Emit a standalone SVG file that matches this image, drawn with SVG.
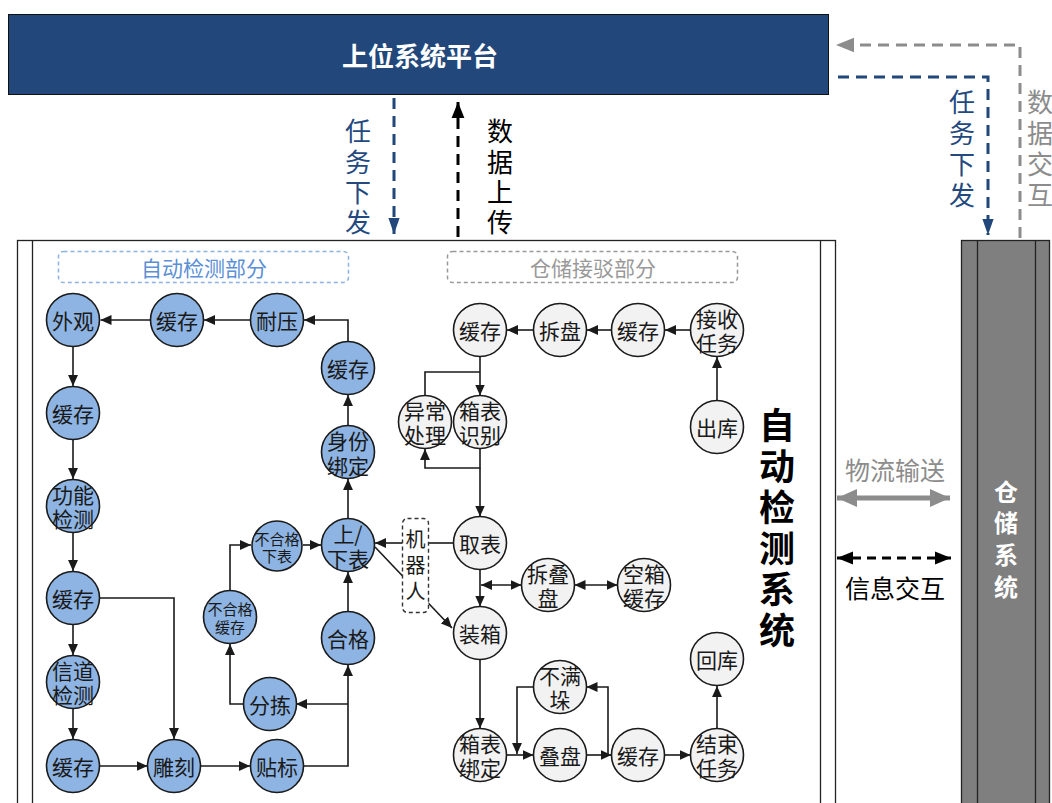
<svg xmlns="http://www.w3.org/2000/svg" width="1052" height="803" viewBox="0 0 1052 803">
<style>
text{font-family:"Noto Sans CJK SC","Liberation Sans",sans-serif;text-anchor:middle;dominant-baseline:central}
.v{writing-mode:vertical-rl}
.n{stroke:#1a1a1a;stroke-width:1.6}
.b{fill:#8DB4E2}
.g{fill:#F2F2F2}
.t{font-size:21px;fill:#1a1a1a}
.s{font-size:15px;fill:#1a1a1a}
.c{fill:none;stroke:#1a1a1a;stroke-width:1.6}
.ae{marker-end:url(#a)}
.ad{marker-start:url(#a);marker-end:url(#a)}
</style>
<defs>
<marker id="a" viewBox="0 0 10 10" refX="10" refY="5" markerWidth="11" markerHeight="11" markerUnits="userSpaceOnUse" orient="auto-start-reverse"><path d="M0,0.5 L10,5 L0,9.5z" fill="#1a1a1a"/></marker>
<marker id="bl" viewBox="0 0 10 10" refX="10" refY="5" markerWidth="16" markerHeight="18" markerUnits="userSpaceOnUse" orient="auto-start-reverse"><path d="M0,1.5 L10,5 L0,8.5z" fill="#21477B"/></marker>
<marker id="bk" viewBox="0 0 10 10" refX="10" refY="5" markerWidth="18" markerHeight="16" markerUnits="userSpaceOnUse" orient="auto-start-reverse"><path d="M0,1 L10,5 L0,9z" fill="#000"/></marker>
<marker id="gr" viewBox="0 0 10 10" refX="10" refY="5" markerWidth="18" markerHeight="18" markerUnits="userSpaceOnUse" orient="auto-start-reverse"><path d="M0,1 L10,5 L0,9z" fill="#8c8c8c"/></marker>
<marker id="gr2" viewBox="0 0 10 10" refX="10" refY="5" markerWidth="20" markerHeight="20" markerUnits="userSpaceOnUse" orient="auto-start-reverse"><path d="M0,0.5 L10,5 L0,9.5z" fill="#8c8c8c"/></marker>
</defs>
<rect width="1052" height="803" fill="#fff"/>

<g id="platform">
<rect x="8.5" y="14.5" width="820" height="80" fill="#21477B" stroke="#111" stroke-width="1"/>
<text x="420" y="54" style="font-size:26px;font-weight:bold;fill:#fff">上位系统平台</text>
</g>

<g id="detect-system">
<rect x="17.5" y="240.5" width="818" height="580" fill="#fff" stroke="#222" stroke-width="1.3"/>
<line x1="32.5" y1="240" x2="32.5" y2="803" stroke="#222" stroke-width="1.3"/>
<line x1="820.5" y1="240" x2="820.5" y2="803" stroke="#222" stroke-width="1.3"/>
<text class="v" x="777" y="530" style="font-size:36px;font-weight:bold;fill:#000;letter-spacing:5px">自动检测系统</text>
</g>

<g id="warehouse">
<rect x="961.5" y="240.5" width="88" height="580" fill="#7f7f7f" stroke="#222" stroke-width="1.3"/>
<line x1="977.5" y1="240" x2="977.5" y2="803" stroke="#222" stroke-width="1.3"/>
<line x1="1035.5" y1="240" x2="1035.5" y2="803" stroke="#222" stroke-width="1.3"/>
<text class="v" x="1006" y="543" style="font-size:24px;font-weight:bold;fill:#fff;letter-spacing:7.7px">仓储系统</text>
</g>

<g id="label-detect">
<rect x="58.5" y="251.5" width="290" height="31" rx="5" fill="none" stroke="#8DB3E2" stroke-width="1.5" stroke-dasharray="4 3"/>
<text x="204" y="266.5" style="font-size:21px;fill:#5B8FD6">自动检测部分</text>
</g>
<g id="label-storage">
<rect x="447.5" y="251.5" width="290" height="31" rx="5" fill="none" stroke="#999" stroke-width="1.5" stroke-dasharray="4 3"/>
<text x="593" y="266.5" style="font-size:21px;fill:#999">仓储接驳部分</text>
</g>

<g id="connectors">
<line x1="394" y1="98" x2="394" y2="234" stroke="#21477B" stroke-width="3" stroke-dasharray="11 7" marker-end="url(#bl)"/>
<line x1="458" y1="237" x2="458" y2="102" stroke="#000" stroke-width="3" stroke-dasharray="11 7" marker-end="url(#bk)"/>
<path d="M1020,238 V45 H836" fill="none" stroke="#8c8c8c" stroke-width="3" stroke-dasharray="11 7" marker-end="url(#gr)"/>
<path d="M838,77 H988 V235" fill="none" stroke="#21477B" stroke-width="3" stroke-dasharray="11 7" marker-end="url(#bl)"/>
<line x1="837" y1="498" x2="950" y2="498" stroke="#8c8c8c" stroke-width="5" marker-start="url(#gr2)" marker-end="url(#gr2)"/>
<line x1="837" y1="558" x2="951" y2="558" stroke="#000" stroke-width="3" stroke-dasharray="9 6" marker-start="url(#bk)" marker-end="url(#bk)"/>
<path class="c ae" d="M150,320 H100.5"/>
<path class="c ae" d="M250.5,320 H204"/>
<path class="c ae" d="M348,341 V320 H304"/>
<path class="c ae" d="M348,426 V395"/>
<path class="c ae" d="M348,519 V479"/>
<path class="c ae" d="M73,347 V386"/>
<path class="c ae" d="M73,439.5 V479"/>
<path class="c ae" d="M73,532 V571"/>
<path class="c ae" d="M73,625 V655"/>
<path class="c ae" d="M73,708.5 V739"/>
<path class="c ae" d="M100,598 H174 V739"/>
<path class="c ae" d="M100,766 H147.5"/>
<path class="c ae" d="M201,766 H250"/>
<path class="c ae" d="M304,766 H348 V665"/>
<path class="c ae" d="M348,704 H296"/>
<path class="c ae" d="M243,704 H230 V644"/>
<path class="c ae" d="M230,590 V545 H251"/>
<path class="c ae" d="M303,545 H321"/>
<path class="c ae" d="M348,612 V572"/>
<path class="c ae" d="M402,543 H375"/>
<path class="c ae" d="M375,547 L452,628"/>
<path class="c" d="M454,543 H428"/>
<path class="c ae" d="M690.5,330 H665"/>
<path class="c ae" d="M611.5,330 H587"/>
<path class="c ae" d="M533.5,330 H507"/>
<path class="c ae" d="M717,400.5 V357"/>
<path class="c ae" d="M480,356.5 V395.5"/>
<path class="c" d="M425,395.5 V372 H480"/>
<path class="c ae" d="M480,448.5 V468 H425 V449"/>
<path class="c ae" d="M480,468 V516.5"/>
<path class="c ae" d="M480,569.5 V606.5"/>
<path class="c ad" d="M481,585 H521.5"/>
<path class="c ad" d="M574.5,585 H617.5"/>
<path class="c ae" d="M480,659.5 V728.5"/>
<path class="c ae" d="M506.5,755 H533.5"/>
<path class="c ae" d="M533.5,687 H517 V754"/>
<path class="c ae" d="M586.5,755 H611.5"/>
<path class="c ae" d="M608,755 V687 H586.5"/>
<path class="c ae" d="M664.5,755 H690.5"/>
<path class="c ae" d="M717,728.5 V686"/>
</g>

<g id="robot">
<rect x="402.5" y="518.5" width="26" height="94" rx="5" fill="#fff" stroke="#333" stroke-width="1.4" stroke-dasharray="4 3"/>
<text class="v t" x="415.5" y="568" style="font-size:20px;letter-spacing:6px">机器人</text>
</g>

<g id="top-text">
<text class="v" x="358" y="179" style="font-size:26px;fill:#24497F;letter-spacing:4.3px">任务下发</text>
<text class="v" x="962" y="151" style="font-size:26px;fill:#24497F;letter-spacing:5px">任务下发</text>
<text class="v" x="500" y="179" style="font-size:26px;fill:#000;letter-spacing:4.3px">数据上传</text>
<text class="v" x="1040" y="151" style="font-size:26px;fill:#8c8c8c;letter-spacing:5px">数据交互</text>
<text x="895" y="469" style="font-size:25px;fill:#8c8c8c">物流输送</text>
<text x="895" y="587" style="font-size:25px;fill:#000">信息交互</text>
</g>

<g id="n-waiguan"><circle class="n b" cx="73" cy="320" r="26.5"/><text class="t" x="73" y="320">外观</text></g>
<g id="n-huancun1"><circle class="n b" cx="177" cy="320" r="26.5"/><text class="t" x="177" y="320">缓存</text></g>
<g id="n-naiya"><circle class="n b" cx="277" cy="320" r="26.5"/><text class="t" x="277" y="320">耐压</text></g>
<g id="n-huancun2"><circle class="n b" cx="348" cy="368" r="26.5"/><text class="t" x="348" y="368">缓存</text></g>
<g id="n-shenfen"><circle class="n b" cx="348" cy="452" r="26.5"/><text class="t" x="348" y="440">身份<tspan x="348" dy="25">绑定</tspan></text></g>
<g id="n-shangxia"><circle class="n b" cx="348" cy="545" r="26.5"/><text class="t" x="348" y="533">上/<tspan x="348" dy="25">下表</tspan></text></g>
<g id="n-bhgxb"><circle class="n b" cx="277" cy="546" r="25"/><text class="s" x="277" y="538">不合格<tspan x="277" dy="17">下表</tspan></text></g>
<g id="n-bhghc"><circle class="n b" cx="230" cy="617" r="26.5"/><text class="s" x="230" y="608">不合格<tspan x="230" dy="18">缓存</tspan></text></g>
<g id="n-hege"><circle class="n b" cx="348" cy="638" r="26.5"/><text class="t" x="348" y="638">合格</text></g>
<g id="n-fenjian"><circle class="n b" cx="270" cy="704" r="26.5"/><text class="t" x="270" y="704">分拣</text></g>
<g id="n-tiebiao"><circle class="n b" cx="277" cy="766" r="26.5"/><text class="t" x="277" y="766">贴标</text></g>
<g id="n-diaoke"><circle class="n b" cx="174" cy="766" r="26.5"/><text class="t" x="174" y="766">雕刻</text></g>
<g id="n-huancun5"><circle class="n b" cx="73" cy="766" r="26.5"/><text class="t" x="73" y="766">缓存</text></g>
<g id="n-xindao"><circle class="n b" cx="73" cy="682" r="26.5"/><text class="t" x="73" y="670">信道<tspan x="73" dy="24">检测</tspan></text></g>
<g id="n-huancun4"><circle class="n b" cx="73" cy="598" r="26.5"/><text class="t" x="73" y="598">缓存</text></g>
<g id="n-gongneng"><circle class="n b" cx="73" cy="506" r="26.5"/><text class="t" x="73" y="494">功能<tspan x="73" dy="24">检测</tspan></text></g>
<g id="n-huancun3"><circle class="n b" cx="73" cy="413" r="26.5"/><text class="t" x="73" y="413">缓存</text></g>

<g id="n-jieshou"><circle class="n g" cx="717" cy="330" r="26.5"/><text class="t" x="717" y="318">接收<tspan x="717" dy="24">任务</tspan></text></g>
<g id="n-ghc1"><circle class="n g" cx="638" cy="330" r="26.5"/><text class="t" x="638" y="330">缓存</text></g>
<g id="n-chaipan"><circle class="n g" cx="560" cy="330" r="26.5"/><text class="t" x="560" y="330">拆盘</text></g>
<g id="n-ghc2"><circle class="n g" cx="480" cy="330" r="26.5"/><text class="t" x="480" y="330">缓存</text></g>
<g id="n-chuku"><circle class="n g" cx="717" cy="427" r="26.5"/><text class="t" x="717" y="427">出库</text></g>
<g id="n-yichang"><circle class="n g" cx="425" cy="422" r="26.5"/><text class="t" x="425" y="410">异常<tspan x="425" dy="24">处理</tspan></text></g>
<g id="n-xbsb"><circle class="n g" cx="480" cy="422" r="26.5"/><text class="t" x="480" y="410">箱表<tspan x="480" dy="24">识别</tspan></text></g>
<g id="n-qubiao"><circle class="n g" cx="480" cy="543" r="26.5"/><text class="t" x="480" y="543">取表</text></g>
<g id="n-chaidie"><circle class="n g" cx="548" cy="585" r="26.5"/><text class="t" x="548" y="573">拆叠<tspan x="548" dy="24">盘</tspan></text></g>
<g id="n-kongxiang"><circle class="n g" cx="644" cy="585" r="26.5"/><text class="t" x="644" y="573">空箱<tspan x="644" dy="24">缓存</tspan></text></g>
<g id="n-zhuangxiang"><circle class="n g" cx="480" cy="633" r="26.5"/><text class="t" x="480" y="633">装箱</text></g>
<g id="n-buman"><circle class="n g" cx="560" cy="687" r="26.5"/><text class="t" x="560" y="675">不满<tspan x="560" dy="24">垛</tspan></text></g>
<g id="n-xbbd"><circle class="n g" cx="480" cy="755" r="26.5"/><text class="t" x="480" y="743">箱表<tspan x="480" dy="24">绑定</tspan></text></g>
<g id="n-diepan"><circle class="n g" cx="560" cy="755" r="26.5"/><text class="t" x="560" y="755">叠盘</text></g>
<g id="n-ghc3"><circle class="n g" cx="638" cy="755" r="26.5"/><text class="t" x="638" y="755">缓存</text></g>
<g id="n-jieshu"><circle class="n g" cx="717" cy="755" r="26.5"/><text class="t" x="717" y="743">结束<tspan x="717" dy="24">任务</tspan></text></g>
<g id="n-huiku"><circle class="n g" cx="717" cy="659" r="26.5"/><text class="t" x="717" y="659">回库</text></g>
</svg>
